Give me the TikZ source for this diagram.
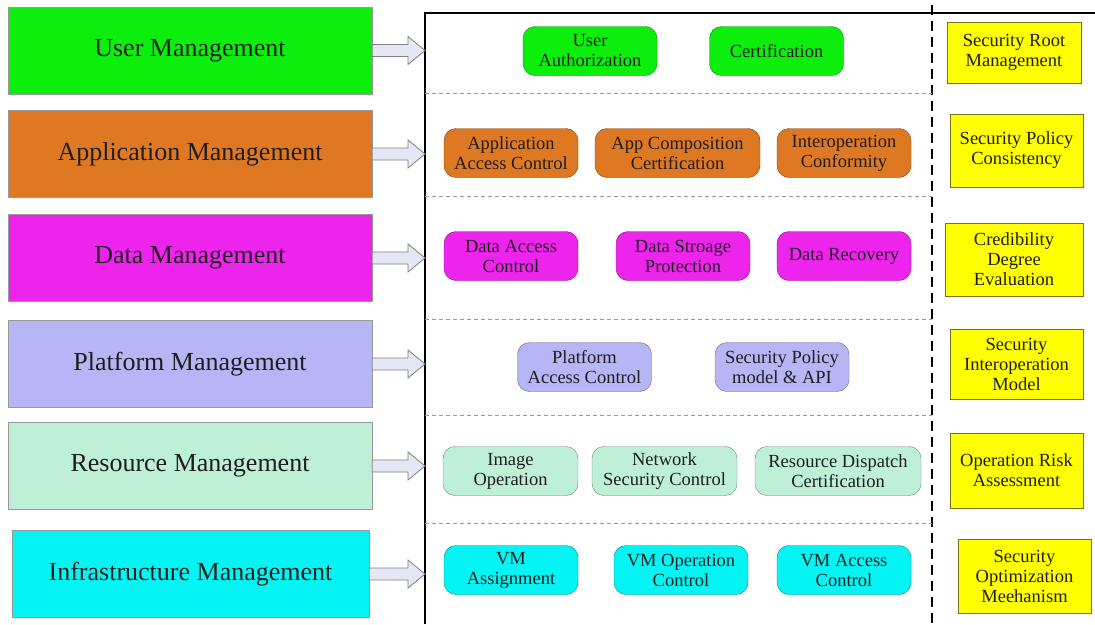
\documentclass[tikz,border=0pt]{standalone}
\usepackage{fontspec}
\setmainfont{Liberation Serif}
\usepackage{tikz}
\usetikzlibrary{positioning,calc}

\definecolor{usergreen}{RGB}{12,238,12}
\definecolor{apporange}{RGB}{222,120,34}
\definecolor{datamagenta}{RGB}{236,36,236}
\definecolor{platlav}{RGB}{182,182,246}
\definecolor{resmint}{RGB}{190,240,216}
\definecolor{infcyan}{RGB}{4,244,244}
\definecolor{secyellow}{RGB}{255,255,0}
\definecolor{arrowfill}{RGB}{228,232,244}
\definecolor{textdark}{RGB}{30,30,30}

\begin{document}
\begin{tikzpicture}[x=1pt,y=-1pt,
	mgmt/.style={draw=gray!80, rectangle, minimum width=364pt, minimum height=87pt, text=textdark, font=\fontsize{26}{28}\selectfont},
	func/.style={draw, rectangle, rounded corners=12pt, minimum width=134pt, minimum height=49pt, inner sep=2pt, align=center, text=textdark, font=\fontsize{18.5}{20}\selectfont},
	secbox/.style={draw=olive!80!black, fill=secyellow, rectangle, minimum width=133pt, inner sep=2pt, align=center, text=textdark, font=\fontsize{18.5}{20}\selectfont},
	sep/.style={gray!80, dash pattern=on 4pt off 3pt, line width=0.8pt},
	blockarrow/.style={draw=gray, fill=arrowfill, line width=0.8pt}]
	\useasboundingbox (0,0) rectangle (1095,624);

	% frame
	\coordinate (fl) at (425,13);
	\coordinate (fr) at (1095,13);
	\coordinate (fb) at (425,624);
	\coordinate (dt) at (932,5);
	\coordinate (db) at (932,624);
	\draw[line width=1.8pt] (fb) -- (fl) -- (fr);
	\draw[line width=1.8pt, dash pattern=on 10pt off 6pt] (dt) -- (db);
	\foreach \y in {93,196,319,415,523}
		\draw[sep] (425,\y) -- (932,\y);

	% management layers
	\node[mgmt, fill=usergreen] (um) at (190,50.5) {User Management};
	\node[mgmt, fill=apporange] (am) at (190,154) {Application Management};
	\node[mgmt, fill=datamagenta] (dm) at (190,258) {Data Management};
	\node[mgmt, fill=platlav] (pm) at (190,364) {Platform Management};
	\node[mgmt, fill=resmint] (rm) at (190,466) {Resource Management};
	\node[mgmt, fill=infcyan, minimum width=357pt] (im) at (190.5,574) {Infrastructure Management};

	\foreach \n in {um,am,dm,pm,rm,im}
		\draw[blockarrow] ($(\n.east)+(0,-6)$) -- ($(\n.east -| fl)+(-17,-6)$) -- ($(\n.east -| fl)+(-17,-14)$) -- (\n.east -| fl) -- ($(\n.east -| fl)+(-17,14)$) -- ($(\n.east -| fl)+(-17,6)$) -- ($(\n.east)+(0,6)$) -- cycle;

	% functions
	\node[func, fill=usergreen, draw=usergreen!55!black] (ua) at (590,51) {User\\Authorization};
	\node[func, fill=usergreen, draw=usergreen!55!black] (uc) at (776.5,51) {Certification};

	\node[func, fill=apporange, draw=apporange!55!black] (aac) at (511,153) {Application\\Access Control};
	\node[func, fill=apporange, draw=apporange!55!black, minimum width=165pt] (acc) at (677.5,153) {App Composition\\Certification};
	\node[func, fill=apporange, draw=apporange!55!black] (aic) at (844,153) {Interoperation\\Conformity};

	\node[func, fill=datamagenta, draw=datamagenta!55!black] (dac) at (511,256) {Data Access\\Control};
	\node[func, fill=datamagenta, draw=datamagenta!55!black] (dsp) at (683,256) {Data Stroage\\Protection};
	\node[func, fill=datamagenta, draw=datamagenta!55!black] (dr) at (844,256) {Data Recovery};

	\node[func, fill=platlav, draw=platlav!55!black] (pac) at (584.5,367) {Platform\\Access Control};
	\node[func, fill=platlav, draw=platlav!55!black] (spm) at (782,367) {Security Policy\\model \& API};

	\node[func, fill=resmint, draw=resmint!55!black, minimum width=135pt] (io) at (510.5,471) {Image\\Operation};
	\node[func, fill=resmint, draw=resmint!55!black, minimum width=145pt] (nsc) at (664.5,471) {Network\\Security Control};
	\node[func, fill=resmint, draw=resmint!55!black, minimum width=166pt] (rdc) at (838,471) {Resource Dispatch\\Certification};

	\node[func, fill=infcyan, draw=infcyan!55!black] (vma) at (511,570) {VM\\Assignment};
	\node[func, fill=infcyan, draw=infcyan!55!black] (vmo) at (681,570) {VM Operation\\Control};
	\node[func, fill=infcyan, draw=infcyan!55!black] (vmc) at (844,570) {VM Access\\Control};

	% security mechanisms
	\node[secbox, minimum width=134pt, minimum height=61pt] (s1) at (1014,52.5) {Security Root\\Management};
	\node[secbox, minimum height=73pt] (s2) at (1016.5,150.5) {Security Policy\\Consistency};
	\node[secbox, minimum width=138pt, minimum height=73pt] (s3) at (1014,259.5) {Credibility\\Degree\\Evaluation};
	\node[secbox, minimum height=70pt] (s4) at (1016.5,364) {Security\\Interoperation\\Model};
	\node[secbox, minimum height=75pt] (s5) at (1016.5,470.5) {Operation Risk\\Assessment};
	\node[secbox, minimum height=74pt] (s6) at (1024.5,576) {Security\\Optimization\\Meehanism};
\end{tikzpicture}
\end{document}
